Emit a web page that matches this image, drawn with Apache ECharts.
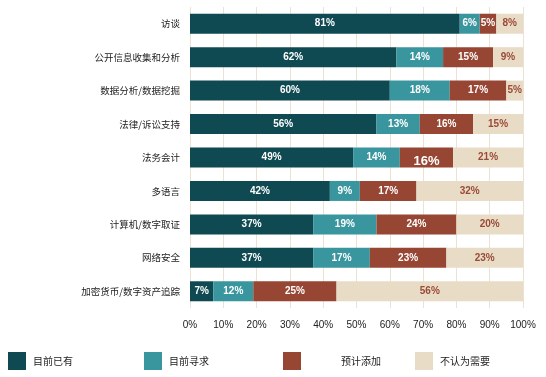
<!DOCTYPE html>
<html>
<head>
<meta charset="utf-8">
<script src="https://cdn.jsdelivr.net/npm/echarts@6/dist/echarts.min.js"></script>
<style>
  html, body { margin: 0; padding: 0; background: #fff; }
  #chart { width: 546px; height: 377px; }
</style>
</head>
<body>
<div id="chart"></div>
<script>
const categories = ['访谈', '公开信息收集和分析', '数据分析/数据挖掘', '法律/诉讼支持', '法务会计', '多语言', '计算机/数字取证', '网络安全', '加密货币/数字资产追踪'];
const seriesNames = ['目前已有', '目前寻求', '预计添加', '不认为需要'];
const haveNow = [81, 62, 60, 56, 49, 42, 37, 37, 7];
const seeking = [6, 14, 18, 13, 14, 9, 19, 17, 12];
const planned = [5, 15, 17, 16, 16, 17, 24, 23, 25];
const notNeeded = [8, 9, 5, 15, 21, 32, 20, 23, 56];

const colors = ['#0f4a52', '#3a969e', '#974634', '#e8dcc7'];
const cjkFont = '"Noto Sans CJK SC", "Liberation Sans", sans-serif';
const numFont = '"Liberation Sans", Arial, sans-serif';

const chart = echarts.init(document.getElementById('chart'), null, { renderer: 'canvas' });

function makeSeries(name, values, idx) {
    return {
        name,
        type: 'bar',
        stack: 'total',
        barWidth: 20,
        data: values.map((v, i) => {
            // the "16%" on 法务会计 is drawn larger and lower in the source
            if (idx === 2 && i === 4) {
                return { value: v, label: { fontSize: 13, offset: [0, 4] } };
            }
            return v;
        }),
        itemStyle: { color: colors[idx] },
        label: {
            show: true,
            formatter: '{c}%',
            color: idx === 3 ? '#9a4a36' : '#fff',
            fontWeight: 'bold',
            fontSize: 10,
            fontFamily: numFont,
        },
    };
}

const legendLefts = [3, 139, 278, 410];
const legendPad = [[0, 0, 0, 2], [0, 0, 0, 2], [0, 0, 0, 35], [0, 0, 0, 2]];

const option = {
    backgroundColor: '#fff',
    animation: false,
    color: colors,
    grid: { left: 190, right: 23, top: 7, bottom: 69 },
    legend: seriesNames.map((n, i) => ({
        data: [n],
        left: legendLefts[i],
        top: 347,
        itemWidth: 18,
        itemHeight: 18,
        icon: 'rect',
        textStyle: { fontSize: 10, color: '#222', fontFamily: cjkFont, padding: legendPad[i] },
    })),
    xAxis: {
        type: 'value',
        min: 0,
        max: 100,
        interval: 10,
        axisLine: { show: false },
        axisTick: { show: false },
        splitLine: { show: true, lineStyle: { color: '#ece2d2', width: 1 } },
        axisLabel: { formatter: '{value}%', color: '#222', fontSize: 10, margin: 12, fontFamily: numFont },
    },
    yAxis: {
        type: 'category',
        data: categories,
        inverse: true,
        axisLine: { show: false },
        axisTick: { show: false },
        axisLabel: { color: '#222', fontSize: 9.5, margin: 10, fontFamily: cjkFont },
    },
    series: [
        makeSeries(seriesNames[0], haveNow, 0),
        makeSeries(seriesNames[1], seeking, 1),
        makeSeries(seriesNames[2], planned, 2),
        makeSeries(seriesNames[3], notNeeded, 3),
    ],
};

chart.setOption(option);
</script>
</body>
</html>
